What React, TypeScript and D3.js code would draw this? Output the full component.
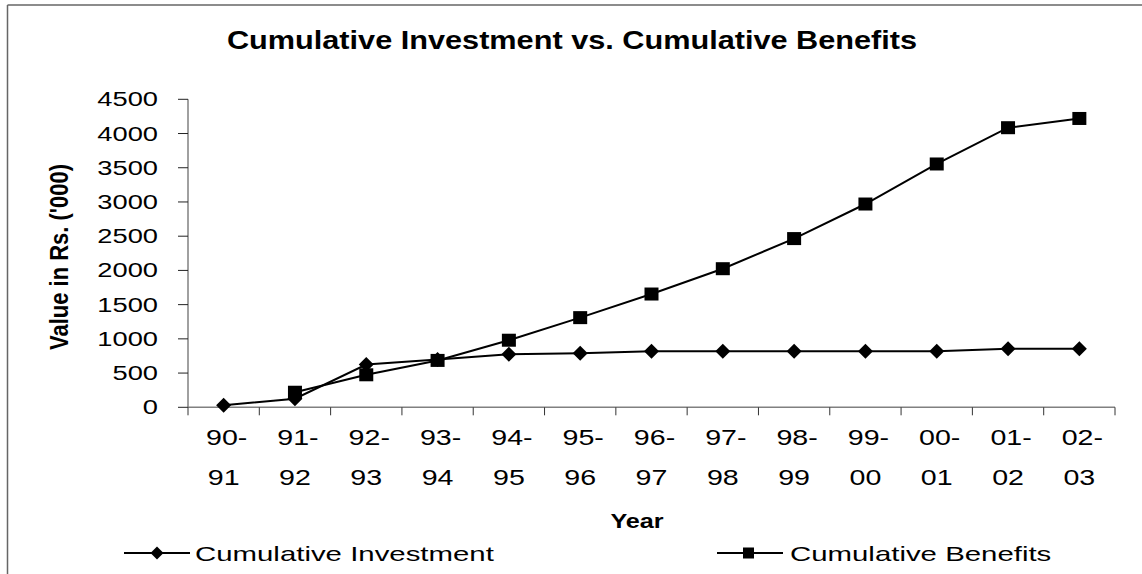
import React from "react";
import * as d3 from "d3";

const categories = ["90-91", "91-92", "92-93", "93-94", "94-95", "95-96", "96-97", "97-98", "98-99", "99-00", "00-01", "01-02", "02-03"];
const investment = [30, 125, 625, 700, 775, 790, 820, 820, 820, 820, 820, 855, 855];
const benefits: (number | null)[] = [null, 220, 475, 685, 980, 1310, 1655, 2025, 2465, 2970, 3555, 4085, 4220];
const yTicks = [0, 500, 1000, 1500, 2000, 2500, 3000, 3500, 4000, 4500];
const seriesNames = ["Cumulative Investment", "Cumulative Benefits"];

const W = 1142;
const H = 574;
const FONT = "'Liberation Sans', Arial, sans-serif";

function SText({ x, y, sx = 1.35, size, bold = false, anchor = "middle", children }: any) {
  return (
    <text
      transform={`translate(${x},${y}) scale(${sx},1)`}
      fontFamily={FONT}
      fontSize={size}
      fontWeight={bold ? "bold" : "normal"}
      textAnchor={anchor}
      fill="#000"
    >
      {children}
    </text>
  );
}

const diamond = (cx: number, cy: number, r: number) =>
  `M${cx},${cy - r}L${cx + r},${cy}L${cx},${cy + r}L${cx - r},${cy}Z`;

export default function App() {
  const x = d3.scaleBand<string>().domain(categories).range([188, 1115]);
  const y = d3.scaleLinear().domain([0, 4500]).range([407.3, 99.3]);
  const cx = (c: string) => (x(c) as number) + x.bandwidth() / 2;

  const line = d3
    .line<number | null>()
    .defined((d) => d !== null)
    .x((_, i) => cx(categories[i]))
    .y((d) => y(d as number));

  const bounds = categories.map((c) => x(c) as number).concat([x.range()[1]]);

  return (
    <svg
      width={W}
      height={H}
      style={{ position: "absolute", left: 0, top: 0, background: "#fff" }}
    >
      <rect x={0} y={0} width={W} height={H} fill="#fff" />
      {/* border */}
      <line x1={7.5} y1={5} x2={W} y2={5} stroke="#666" strokeWidth={1.5} />
      <line x1={7.5} y1={5} x2={7.5} y2={H} stroke="#666" strokeWidth={1.5} />

      {/* title */}
      <SText x={572} y={49} size={26} bold sx={1.18}>
        Cumulative Investment vs. Cumulative Benefits
      </SText>

      {/* y axis */}
      <line x1={188} y1={y(4500)} x2={188} y2={y(0)} stroke="#808080" strokeWidth={1.5} />
      {yTicks.map((t) => (
        <g key={t}>
          <line x1={178} x2={188} y1={y(t)} y2={y(t)} stroke="#222" strokeWidth={1} />
          <SText x={158} y={y(t) + 7} size={21} anchor="end" sx={1.3}>
            {t}
          </SText>
        </g>
      ))}
      <text
        transform={`translate(68,257) scale(1.15,1) rotate(-90)`}
        fontFamily={FONT}
        fontSize={22}
        fontWeight="bold"
        textAnchor="middle"
      >
        Value in Rs. ('000)
      </text>

      {/* x axis */}
      <line x1={188} x2={1115} y1={y(0)} y2={y(0)} stroke="#808080" strokeWidth={1.5} />
      {bounds.map((b, i) => (
        <line key={i} x1={b} x2={b} y1={y(0)} y2={y(0) + 8} stroke="#333" strokeWidth={1} />
      ))}
      {categories.map((c) => {
        const [a, b] = c.split("-");
        return (
          <g key={c}>
            <SText x={cx(c) + 3} y={445} size={21.5} sx={1.33}>
              {a + "-"}
            </SText>
            <SText x={cx(c)} y={485} size={21.5} sx={1.33}>
              {b}
            </SText>
          </g>
        );
      })}
      <SText x={637} y={528} size={21} bold sx={1.2}>
        Year
      </SText>

      {/* lines */}
      <path d={line(investment) || ""} fill="none" stroke="#000" strokeWidth={2} />
      <path d={line(benefits) || ""} fill="none" stroke="#000" strokeWidth={2} />
      {investment.map((v, i) => (
        <path key={"i" + i} d={diamond(cx(categories[i]), y(v), 7.5)} fill="#000" />
      ))}
      {benefits.map((v, i) =>
        v === null ? null : (
          <rect
            key={"b" + i}
            x={cx(categories[i]) - 7}
            y={y(v) - 6.5}
            width={14}
            height={13}
            fill="#000"
          />
        )
      )}

      {/* legend */}
      <line x1={124} x2={190} y1={553} y2={553} stroke="#000" strokeWidth={2} />
      <path d={diamond(157, 553, 6.5)} fill="#000" />
      <SText x={195} y={561} size={21} anchor="start" sx={1.4}>
        {seriesNames[0]}
      </SText>
      <line x1={717} x2={783} y1={553} y2={553} stroke="#000" strokeWidth={2} />
      <rect x={743} y={547.5} width={11} height={11} fill="#000" />
      <SText x={790} y={561} size={21} anchor="start" sx={1.4}>
        {seriesNames[1]}
      </SText>
    </svg>
  );
}
